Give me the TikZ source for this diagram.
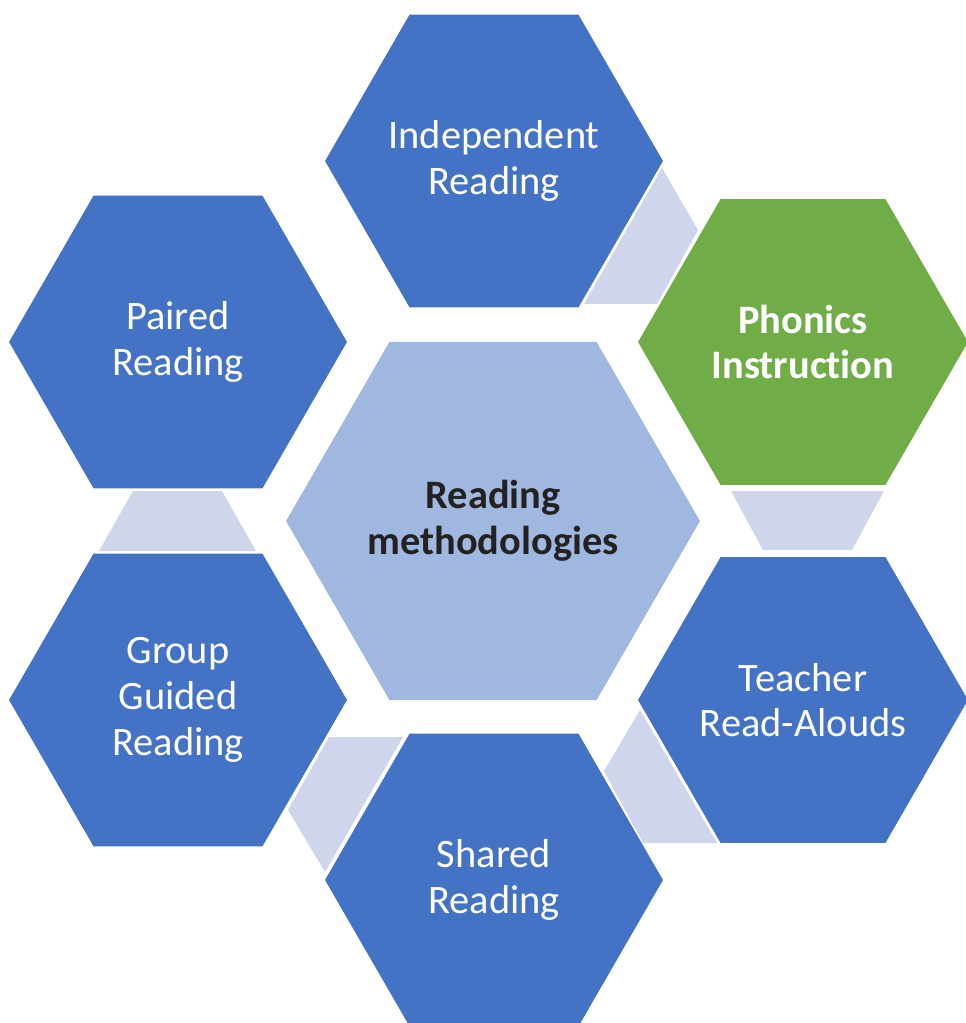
\documentclass[tikz,border=0pt]{standalone}
\usepackage{fontspec}
\setmainfont[Ligatures=NoCommon]{Carlito}
\usetikzlibrary{shapes.geometric}
\definecolor{hexblue}{HTML}{4472C4}
\definecolor{hexgreen}{HTML}{70AD47}
\definecolor{hexlight}{HTML}{A0B8E0}
\definecolor{hubtext}{HTML}{222222}
\definecolor{linkfill}{HTML}{CFD5EA}
\tikzset{
  hexnode/.style = {regular polygon, regular polygon sides=6, inner sep=-15pt,
    minimum size=6.76cm, fill=hexblue, text=white, align=center,
    font=\fontsize{23}{26}\selectfont},
  hubnode/.style = {hexnode, minimum size=8.28cm, fill=hexlight, text=hubtext,
    font=\fontsize{23}{26}\selectfont\bfseries},
  focusnode/.style = {hexnode, minimum size=6.6cm, fill=hexgreen,
    font=\fontsize{23}{26}\selectfont\bfseries},
  sidenode/.style = {hexnode, minimum size=6.6cm},
  linkshape/.style = {fill=linkfill},
}

\begin{document}
\begin{tikzpicture}[x=0.02cm, y=-0.02cm]
  \useasboundingbox (0,0) rectangle (965,1023);
  % links between the outer hexagons
  \fill[linkshape] (662,168) -- (698,230) -- (657,304) -- (584,304) -- cycle;
  \fill[linkshape] (731,491) -- (884,491) -- (852,550) -- (763,550) -- cycle;
  \fill[linkshape] (640,710) -- (717,843) -- (643,843) -- (604,771) -- cycle;
  \fill[linkshape] (329,737) -- (403,737) -- (325,872) -- (288,810) -- cycle;
  \fill[linkshape] (133,491) -- (222,491) -- (256,551) -- (99,551) -- cycle;
  % hexagons
  \node [hubnode] (hub) at (493,521) {Reading\\methodologies};
  \node [hexnode] (indep) at (494,161) {Independent\\Reading};
  \node [focusnode] (phonics) at (803,342) {Phonics\\Instruction};
  \node [sidenode] (readaloud) at (803,700) {Teacher\\Read-Alouds};
  \node [hexnode] (shared) at (494,880) {Shared\\Reading};
  \node [hexnode] (guided) at (178,700) {Group\\Guided\\Reading};
  \node [hexnode] (paired) at (178,342) {Paired\\Reading};
\end{tikzpicture}
\end{document}
